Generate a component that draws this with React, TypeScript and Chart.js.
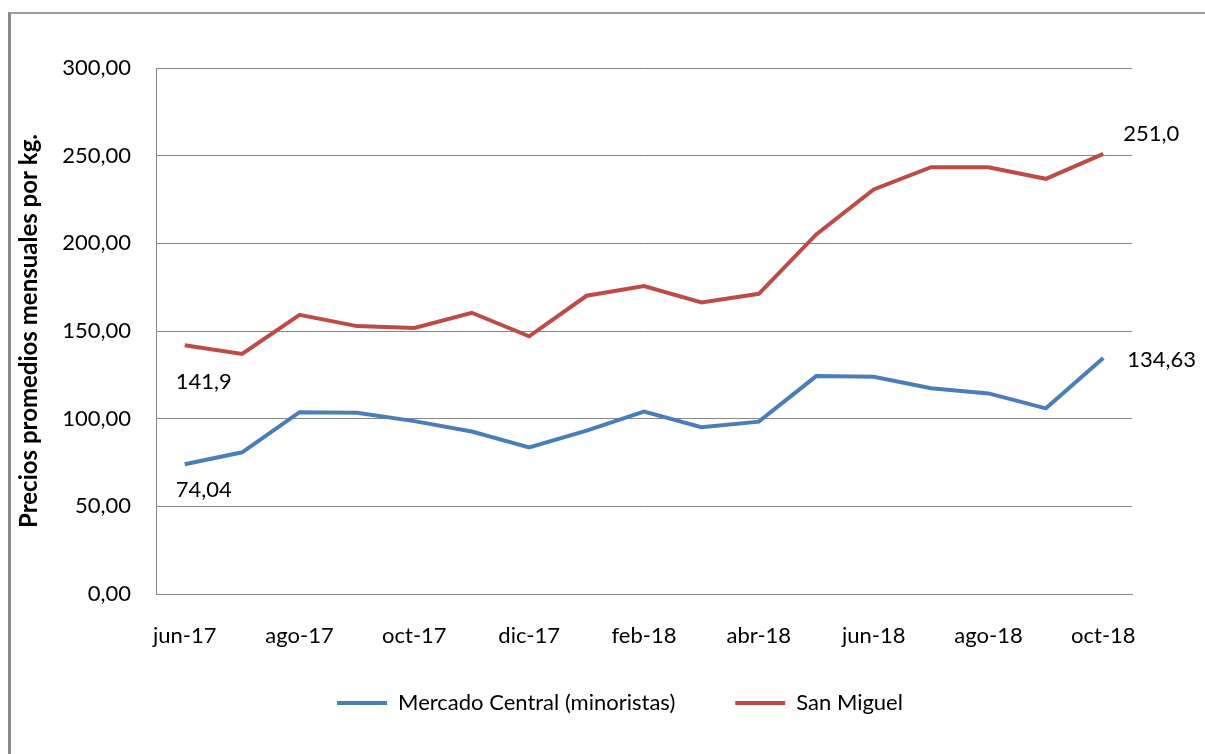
import React, { useEffect, useRef } from "react";
import { Chart, registerables } from "chart.js";

Chart.register(...registerables);

const months = [
  "jun-17", "jul-17", "ago-17", "sep-17", "oct-17", "nov-17", "dic-17",
  "ene-18", "feb-18", "mar-18", "abr-18", "may-18", "jun-18", "jul-18",
  "ago-18", "sep-18", "oct-18",
];
const mercadoCentral = [
  74.04, 80.8, 103.7, 103.4, 98.6, 92.7, 83.6, 93.2, 104.0, 95.1, 98.3,
  124.3, 123.9, 117.3, 114.4, 105.9, 134.63,
];
const sanMiguel = [
  141.9, 136.9, 159.2, 152.8, 151.7, 160.4, 147.0, 170.1, 175.6, 166.3,
  171.2, 205.1, 230.7, 243.4, 243.4, 236.8, 251.0,
];
const seriesNames = ["Mercado Central (minoristas)", "San Miguel"];
const seriesDecimals = [2, 1];
const yMin = 0;
const yMax = 300;
const yStep = 50;
const yTitle = "Precios promedios mensuales por kg.";

const FONT = "Lato, 'Noto Sans', sans-serif";
const FS = 22;
const BLUE = "#4A7EBB";
const RED = "#BE4B48";
const GRID = "#878787";

const fmt = (v: number, d: number) => v.toFixed(d).replace(".", ",");

const endLabelsPlugin = {
  id: "endLabels",
  afterDatasetsDraw(chart: any) {
    const ctx = chart.ctx;
    const specs = [
      { ds: 0, first: true, dx: 19, dy: 26, align: "center" },
      { ds: 0, first: false, dx: 24, dy: 2, align: "left" },
      { ds: 1, first: true, dx: 19, dy: 37, align: "center" },
      { ds: 1, first: false, dx: 20, dy: -20, align: "left" },
    ];
    ctx.save();
    ctx.font = `${FS}px ${FONT}`;
    ctx.fillStyle = "#000";
    ctx.textBaseline = "middle";
    specs.forEach((s) => {
      const meta = chart.getDatasetMeta(s.ds);
      const data = chart.data.datasets[s.ds].data as number[];
      const idx = s.first ? 0 : data.length - 1;
      const pt = meta.data[idx];
      ctx.textAlign = s.align;
      ctx.fillText(fmt(data[idx], seriesDecimals[s.ds]), pt.x + s.dx, pt.y + s.dy);
    });
    ctx.restore();
  },
};

const legendShiftPlugin = {
  id: "legendShift",
  afterLayout(chart: any) {
    const lg = chart.legend;
    if (lg) {
      lg.left += 54;
      lg.right += 54;
      lg.top -= 22;
      lg.bottom -= 22;
    }
  },
};

export default function App() {
  const ref = useRef<HTMLCanvasElement | null>(null);

  useEffect(() => {
    document.body.style.margin = "0";
    const canvas = ref.current;
    if (!canvas) return;
    const chart = new Chart(canvas, {
      type: "line",
      data: {
        labels: months,
        datasets: [
          {
            label: seriesNames[0],
            data: mercadoCentral,
            borderColor: BLUE,
            backgroundColor: BLUE,
            borderWidth: 4,
            pointRadius: 0,
            tension: 0,
          },
          {
            label: seriesNames[1],
            data: sanMiguel,
            borderColor: RED,
            backgroundColor: RED,
            borderWidth: 4,
            pointRadius: 0,
            tension: 0,
          },
        ],
      },
      options: {
        responsive: false,
        animation: false,
        layout: { padding: { top: 68, right: 73, bottom: 8, left: 0 } },
        plugins: {
          tooltip: { enabled: false },
          legend: {
            position: "bottom",
            labels: {
              boxWidth: 50,
              boxHeight: 4,
              padding: 60,
              color: "#000",
              font: { family: FONT, size: FS },
              generateLabels: (c: any) =>
                Chart.defaults.plugins.legend.labels
                  .generateLabels(c)
                  .map((l: any) => ({ ...l, lineWidth: 0 })),
            },
          },
        },
        scales: {
          x: {
            offset: true,
            grid: { display: false, drawTicks: false },
            border: { display: true, color: GRID, width: 1 },
            ticks: {
              autoSkip: false,
              maxRotation: 0,
              padding: 29,
              color: "#000",
              font: { family: FONT, size: FS },
              callback: (_v: any, i: number) => (i % 2 === 0 ? months[i] : ""),
            },
            afterFit: (s: any) => {
              s.height = 60;
            },
          },
          y: {
            min: yMin,
            max: yMax,
            grid: { color: GRID, lineWidth: 1, drawTicks: false },
            border: { display: true, color: GRID, width: 1 },
            ticks: {
              stepSize: yStep,
              padding: 25,
              color: "#000",
              font: { family: FONT, size: FS },
              callback: (v: any) => fmt(Number(v), 2),
            },
            title: {
              display: true,
              text: yTitle,
              color: "#000",
              font: { family: FONT, size: 24, weight: "bold" },
              padding: { top: 15, bottom: 0 },
            },
            afterFit: (s: any) => {
              s.width = 156;
            },
          },
        },
      },
      plugins: [endLabelsPlugin, legendShiftPlugin],
    });
    return () => chart.destroy();
  }, []);

  return (
    <div
      style={{
        position: "relative",
        width: 1205,
        height: 754,
        background: "#fff",
        overflow: "hidden",
      }}
    >
      <div
        style={{
          position: "absolute",
          left: 8,
          top: 12,
          right: -5,
          bottom: -5,
          borderLeft: "3px solid #8a8a8a",
          borderTop: "2px solid #9c9c9c",
        }}
      />
      <canvas
        ref={ref}
        width={1205}
        height={754}
        style={{ position: "absolute", left: 0, top: 0 }}
      />
    </div>
  );
}
